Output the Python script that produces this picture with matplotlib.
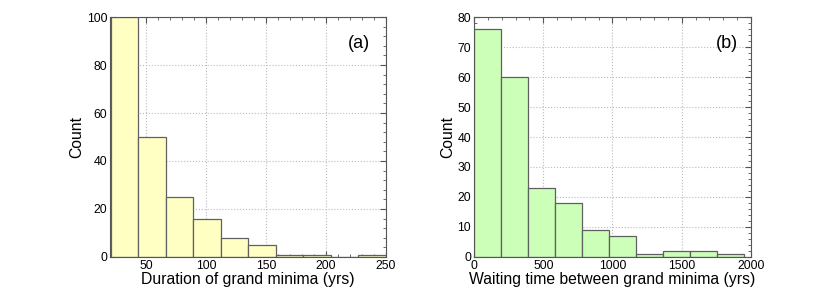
import numpy as np
import matplotlib.pyplot as plt
from matplotlib.ticker import AutoMinorLocator

plt.rcParams['font.family'] = ['Liberation Sans', 'DejaVu Sans']

# Panel (a): duration of grand minima
dur_edges = [20, 43, 66, 89, 112, 135, 158, 181, 204, 227, 250]
dur_counts = [100, 50, 25, 16, 8, 5, 1, 1, 0, 1]

# Panel (b): waiting time between grand minima
wait_edges = [0, 195, 390, 585, 780, 975, 1170, 1365, 1560, 1755, 1950]
wait_counts = [76, 60, 23, 18, 9, 7, 1, 2, 2, 1]


def draw_hist(ax, edges, counts, color, xlim, ylim, xticks, yticks, xlabel, tag, tag_x):
    edges = np.array(edges)
    ax.bar(edges[:-1], counts, width=np.diff(edges), align='edge',
           color=color, edgecolor='#606060', linewidth=0.9, zorder=2)
    ax.set_xlim(*xlim)
    ax.set_ylim(*ylim)
    ax.set_xticks(xticks)
    ax.set_yticks(yticks)
    ax.xaxis.set_minor_locator(AutoMinorLocator(5))
    ax.yaxis.set_minor_locator(AutoMinorLocator(5))
    ax.tick_params(which='both', direction='in', top=True, right=True,
                   labelsize=8.8, pad=2, colors='#555555', labelcolor='black')
    ax.tick_params(which='major', length=4)
    ax.tick_params(which='minor', length=2)
    ax.grid(True, linestyle=':', color='#bbbbbb', linewidth=0.8, zorder=0)
    ax.set_axisbelow(True)
    for s in ax.spines.values():
        s.set_color('#555555')
        s.set_linewidth(0.8)
    ax.set_xlabel(xlabel, fontsize=11.3, labelpad=0)
    ax.set_ylabel('Count', fontsize=11.3, labelpad=2)
    ax.text(tag_x, 0.89, tag, transform=ax.transAxes, fontsize=13,
            ha='right', va='center')


fig = plt.figure(figsize=(8.3, 2.94), dpi=100)
ax1 = fig.add_axes([0.1325, 0.126, 0.3325, 0.816])
ax2 = fig.add_axes([0.5711, 0.126, 0.3337, 0.816])

draw_hist(ax1, dur_edges, dur_counts, '#ffffc4', (19.5, 250), (0, 100),
          [50, 100, 150, 200, 250], [0, 20, 40, 60, 80, 100],
          'Duration of grand minima (yrs)', '(a)', 0.942)
draw_hist(ax2, wait_edges, wait_counts, '#ccffb8', (0, 2000), (0, 80),
          [0, 500, 1000, 1500, 2000], [0, 10, 20, 30, 40, 50, 60, 70, 80],
          'Waiting time between grand minima (yrs)', '(b)', 0.953)

fig.savefig('out.png', dpi=100)
